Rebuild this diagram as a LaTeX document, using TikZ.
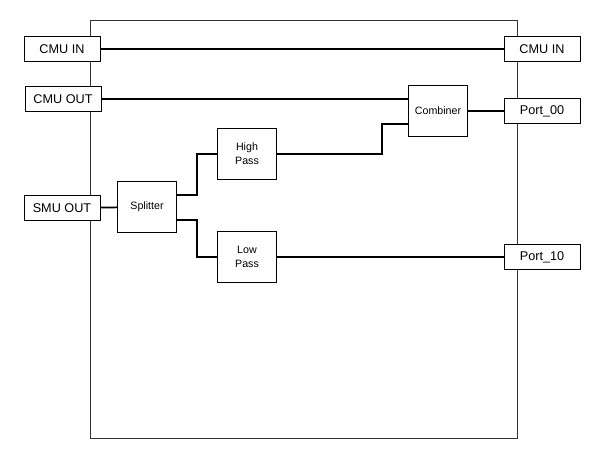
\documentclass[tikz,border=0pt]{standalone}
\usepackage{fontspec}
\setmainfont{Liberation Sans}
\begin{document}
\begin{tikzpicture}[x=1pt,y=-1pt,
  box/.style={draw=black,line width=0.7pt,fill=white,inner sep=0pt,font=\fontsize{9.5}{11}\selectfont},
  port/.style={box,minimum width=57pt,minimum height=18.5pt,font=\fontsize{9.5}{11}\selectfont},
  blk/.style={box,minimum width=44pt,minimum height=38pt,align=center,font=\fontsize{8}{10.5}\selectfont},
  wire/.style={line width=1.3pt}]
\useasboundingbox (0,0) rectangle (450,348.75);
\draw[line width=0.7pt,draw=black!80] (67.5,15) rectangle (387.75,328.5);
\node[port] (cmuinL) at (46.5,36.75) {CMU IN};
\node[port] (cmuinR) at (406.5,36.75) {CMU IN};
\node[port] (cmuout) at (47.25,74.25) {CMU OUT};
\node[port] (smuout) at (46.5,156) {SMU OUT};
\node[port] (p00) at (406.5,83.25) {Port\_00};
\node[port] (p10) at (406.5,192.75) {Port\_10};
\node[blk] (comb) at (328.5,83.25) {Combiner};
\node[blk] (hp) at (185.25,115.5) {High\\Pass};
\node[blk] (lp) at (185.25,192.75) {Low\\Pass};
\node[blk] (spl) at (110.25,155.25) {Splitter};
\coordinate (sa) at ([yshift=9pt]spl.east);
\coordinate (sb) at ([yshift=-9.75pt]spl.east);
\coordinate (ca) at (comb.west |- cmuout);
\coordinate (cb) at ([yshift=-9.75pt]comb.west);
\draw[wire] (cmuinL) -- (cmuinR);
\draw[wire] (cmuout) -- (ca);
\draw[wire] (comb) -- (p00);
\draw[wire] (smuout) -- (spl);
\draw[wire] (sa) -| (147.75,115.5) -- (hp.west);
\draw[wire] (sb) -| (147.75,192.75) -- (lp.west);
\draw[wire] (hp.east) -| (cb -| 286.5,0) -- (cb);
\draw[wire] (lp.east) -- (p10.west);
\end{tikzpicture}
\end{document}
